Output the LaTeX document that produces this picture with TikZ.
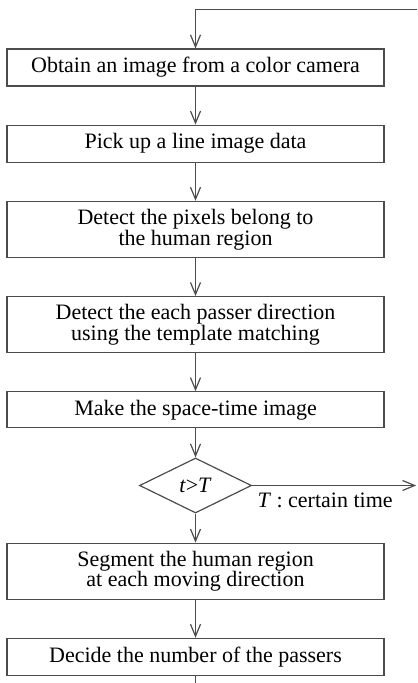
\documentclass[tikz,border=0pt]{standalone}
\usepackage{fontspec}
\setmainfont{Liberation Serif}
\usetikzlibrary{shapes.geometric,positioning,arrows.meta}

\tikzset{
  procbox/.style={rectangle,draw=black!70,line width=0.6pt,minimum width=188.5pt,minimum height=18.5pt,
                  align=center,inner sep=1pt,font=\fontsize{11}{10.4}\selectfont},
  tallbox/.style={procbox,minimum height=28pt},
  testbox/.style={diamond,draw=black!70,line width=0.6pt,minimum width=56pt,minimum height=27.5pt,
                  inner sep=0pt,font=\fontsize{11}{10.4}\selectfont},
  flow/.style={draw=black!70,line width=0.6pt,-{Straight Barb[length=6pt,width=5pt]}},
  loopline/.style={draw=black!70,line width=0.6pt}
}

\begin{document}
\begin{tikzpicture}
        \useasboundingbox (0,0) rectangle (208.5pt,-341.5pt);
        \node[procbox] (b1) at (97.75pt,-33.75pt) {Obtain an image from a color camera};
        \node[procbox, below=19pt of b1] (b2) {Pick up a line image data};
        \node[tallbox, below=19pt of b2] (b3) {Detect the pixels belong to\\the human region};
        \node[tallbox, below=19pt of b3] (b4) {Detect the each passer direction\\using the template matching};
        \node[procbox, below=19pt of b4, minimum height=18pt] (b5) {Make the space-time image};
        \node[testbox, below=14.5pt of b5] (dia) {\textit{t}>\textit{T}};
        \node[tallbox, below=14.5pt of dia] (b6) {Segment the human region\\at each moving direction};
        \node[procbox, below=19pt of b6] (b7) {Decide the number of the passers};
        \node[below right=3.5pt and 2.5pt of dia.east, inner sep=0pt, font=\fontsize{11}{10.4}\selectfont] (note) {\textit{T} : certain time};

        % loop ends
        \coordinate[above=19.5pt of b1] (top);
        \coordinate[right=110.75pt of top] (topend);
        \coordinate[below=6pt of b7] (bot);
        \coordinate[right=110.75pt of bot] (botend);
        \coordinate[right=82pt of dia.east] (exit);

        \draw[loopline] (topend) -- (top);
        \draw[flow] (top) -- (b1);
        \draw[flow] (b1) -- (b2);
        \draw[flow] (b2) -- (b3);
        \draw[flow] (b3) -- (b4);
        \draw[flow] (b4) -- (b5);
        \draw[flow] (b5) -- (dia);
        \draw[flow] (dia) -- (b6);
        \draw[flow] (b6) -- (b7);
        \draw[flow] (dia.east) -- (exit);
        \draw[loopline] (b7) -- (bot) -- (botend);
\end{tikzpicture}
\end{document}
